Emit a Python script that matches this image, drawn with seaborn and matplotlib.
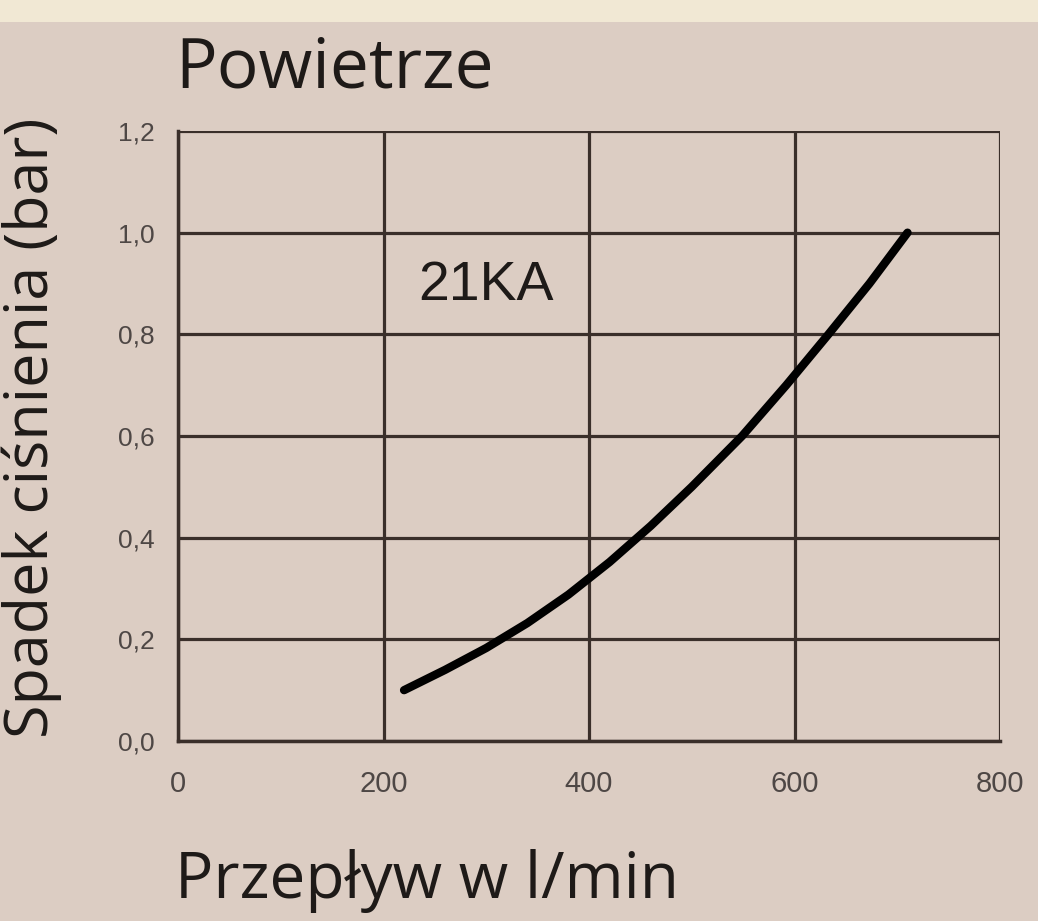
import matplotlib
matplotlib.use("Agg")
import matplotlib.pyplot as plt
import seaborn as sns
import pandas as pd
from matplotlib.patches import Rectangle
from matplotlib.ticker import FuncFormatter

# Data
flow = [220, 260, 300, 340, 380, 420, 460, 500, 549, 592, 633, 673, 710]
drop = [0.10, 0.14, 0.183, 0.232, 0.288, 0.352, 0.423, 0.50, 0.60, 0.70, 0.80, 0.90, 1.00]
x_ticks = [0, 200, 400, 600, 800]
y_ticks = [0.0, 0.2, 0.4, 0.6, 0.8, 1.0, 1.2]
series_label = "21KA"
title = "Powietrze"
xlabel = "Przepływ w l/min"
ylabel = "Spadek ciśnienia (bar)"

bg = "#dccdc3"
grid_c = "#3a2f2a"
text_c = "#1e1a18"
tick_c = "#4e4745"

sns.set_theme(style="white")
plt.rcParams['font.family'] = ['Open Sans', 'DejaVu Sans']

fig = plt.figure(figsize=(10.38, 9.21), dpi=100, facecolor=bg)
fig.patches.append(Rectangle((0, 1 - 22 / 921), 1, 22 / 921, transform=fig.transFigure,
                             facecolor="#f1e8d4", edgecolor="none", zorder=0))
ax = fig.add_axes([178 / 1038, 1 - 741 / 921, 822 / 1038, 610 / 921])
ax.set_facecolor(bg)

df = pd.DataFrame({"flow": flow, "drop": drop})
sns.lineplot(data=df, x="flow", y="drop", ax=ax, color="black", linewidth=6,
             solid_capstyle="round", solid_joinstyle="round", zorder=5)

ax.set_xlim(0, 800)
ax.set_ylim(0, 1.2)
ax.set_xticks(x_ticks)
ax.set_yticks(y_ticks)
ax.yaxis.set_major_formatter(FuncFormatter(lambda v, p: f"{v:.1f}".replace(".", ",")))
ax.xaxis.set_major_formatter(FuncFormatter(lambda v, p: f"{int(v)}"))
ax.grid(True, color=grid_c, linewidth=2.3)
for s in ["left", "bottom"]:
    ax.spines[s].set_color(grid_c)
    ax.spines[s].set_linewidth(2.5)
for s in ["top", "right"]:
    ax.spines[s].set_visible(False)
ax.tick_params(axis="both", which="major", direction="out", length=7, width=2.3,
               color=grid_c, labelcolor=tick_c)
ax.tick_params(axis="x", pad=14, labelsize=21)
ax.tick_params(axis="y", pad=10, labelsize=19)
for lab in ax.get_xticklabels() + ax.get_yticklabels():
    lab.set_fontfamily("Liberation Sans")

ax.set_xlabel("")
ax.set_ylabel("")
fig.text(175 / 1038, 1 - 898 / 921, xlabel, fontsize=46, color=text_c,
         ha="left", va="baseline")
fig.text(175 / 1038, 1 - 87 / 921, title, fontsize=50, color=text_c,
         ha="left", va="baseline")
fig.text(1 / 1038, 1 - 428 / 921, ylabel, fontsize=44, color=text_c,
         rotation=90, ha="left", va="center")

ax.text(300, 0.895, series_label, fontsize=40, color=text_c,
        family="Liberation Sans", ha="center", va="center")

fig.savefig("out.png", dpi=100, facecolor=bg)
